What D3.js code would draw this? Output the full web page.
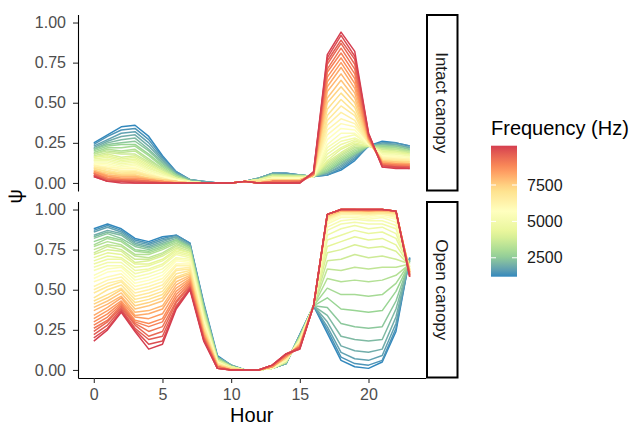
<!DOCTYPE html>
<html>
<head>
<meta charset="utf-8">
<script src="https://cdn.jsdelivr.net/npm/d3@7"></script>
<style>
  body { margin: 0; background: #fff; }
  text { font-family: "Liberation Sans", Arial, sans-serif; }
</style>
</head>
<body>
<svg id="chart" width="634" height="427"></svg>
<script>
(function () {
    'use strict';

    // ---- data -------------------------------------------------------------
    var hours = [0, 1, 2, 3, 4, 5, 6, 7, 8, 9, 10, 11, 12, 13, 14, 15, 16, 17, 18, 19, 20, 21, 22, 23];
    var frequencies = [1200, 1450, 1700, 1950, 2200, 2450, 2700, 2950, 3200, 3450, 3700, 3950, 4200,
        4450, 4700, 4950, 5200, 5450, 5700, 5950, 6200, 6450, 6700, 6950, 7200, 7450, 7700, 7950,
        8200, 8450, 8700, 8950, 9200, 9450, 9700, 9950, 10200];
    var facets = ['Intact canopy', 'Open canopy'];
    var yTicks = [0, 0.25, 0.5, 0.75, 1];
    var xTicks = [0, 5, 10, 15, 20];
    var legendTicks = [2500, 5000, 7500];

    // psi in percent, one row per hour, one column per frequency (low -> high)
    var intactPsi = [
        [25,24,23,22,21,21,20,19,18,18, 17,16,16,15,14,14,13,12,12,11, 11,10,10,9,9,8,8,7,7,7, 6,6,6,5,5,4,4],
        [30,29,27,26,25,24,23,22,21,20, 19,18,17,16,15,14,13,12,11,10, 9,9,8,7,7,6,5,5,4,4, 3,3,2,2,1,1,1],
        [35,33,31,29,27,25,24,22,20,19, 18,16,15,14,13,12,11,10,9,9, 8,7,6,6,5,5,4,4,3,3, 2,2,2,1,1,1,0],
        [36,34,32,30,28,26,24,23,21,20, 18,17,16,15,14,13,12,11,10,9, 8,7,7,6,5,5,4,4,3,3, 2,2,1,1,1,0,0],
        [29,27,25,23,21,20,18,17,15,14, 13,12,11,10,9,8,8,7,6,6, 5,5,4,4,3,3,3,2,2,2, 1,1,1,1,0,0,0],
        [17,16,15,14,13,12,11,10,9,9, 8,7,7,6,6,5,5,4,4,3, 3,3,2,2,2,2,1,1,1,1, 1,0,0,0,0,0,0],
        [7,7,6,6,5,5,5,4,4,4, 3,3,3,3,2,2,2,2,2,1, 1,1,1,1,1,1,1,0,0,0, 0,0,0,0,0,0,0],
        [2,2,2,2,2,1,1,1,1,1, 1,1,1,1,1,1,0,0,0,0, 0,0,0,0,0,0,0,0,0,0, 0,0,0,0,0,0,0],
        [1,1,1,1,0,0,0,0,0,0, 0,0,0,0,0,0,0,0,0,0, 0,0,0,0,0,0,0,0,0,0, 0,0,0,0,0,0,0],
        [0,0,0,0,0,0,0,0,0,0, 0,0,0,0,0,0,0,0,0,0, 0,0,0,0,0,0,0,0,0,0, 0,0,0,0,0,0,0],
        [0,0,0,0,0,0,0,0,0,0, 0,0,0,0,0,0,0,0,0,0, 0,0,0,0,0,0,0,0,0,0, 0,0,0,0,0,0,0],
        [1,1,1,1,1,1,1,1,1,1, 1,1,1,1,1,1,1,1,1,1, 1,1,1,1,1,1,1,1,1,1, 1,1,1,1,1,1,1],
        [3,3,3,3,3,2,2,2,2,2, 2,2,2,2,1,1,1,1,1,1, 1,1,1,1,1,0,0,0,0,0, 0,0,0,0,0,0,0],
        [6,6,6,6,5,5,5,5,5,4, 4,4,4,4,3,3,3,3,3,3, 2,2,2,2,2,2,1,1,1,1, 1,1,1,0,0,0,0],
        [6,6,6,5,5,5,5,5,4,4, 4,4,4,3,3,3,3,3,3,2, 2,2,2,2,2,2,1,1,1,1, 1,1,1,0,0,0,0],
        [5,5,5,5,5,5,4,4,4,4, 4,4,4,3,3,3,3,3,3,2, 2,2,2,2,2,2,1,1,1,1, 1,1,1,1,0,0,0],
        [4,4,4,4,4,4,4,4,4,4, 4,4,4,4,4,4,4,4,4,5, 5,5,5,5,5,5,5,5,5,5, 6,6,6,6,6,7,7],
        [5,5,6,6,7,7,8,9,10,11, 12,13,14,16,18,20,22,24,27,30, 33,36,39,42,46,50,53,57,60,63, 66,69,71,74,76,78,80],
        [8,9,10,11,12,13,14,15,16,17, 18,19,21,22,24,26,28,31,34,37, 40,44,48,52,56,60,64,68,72,75, 78,81,84,87,89,92,94],
        [14,15,16,17,18,18,19,20,21,22, 23,24,25,26,27,28,30,31,33,35, 37,39,42,44,47,50,53,56,59,62, 65,68,71,74,77,79,82],
        [23,23,23,23,23,23,23,23,23,23, 23,23,23,24,24,24,24,24,24,25, 25,25,25,26,26,26,27,27,28,28, 28,29,29,30,30,31,31],
        [26,25,25,24,24,23,23,22,22,21, 21,20,20,19,19,18,18,17,17,16, 16,15,15,14,14,14,13,13,13,12, 12,12,11,11,11,10,10],
        [25,25,24,24,23,23,22,22,21,21, 20,20,19,19,18,18,17,17,16,16, 15,15,14,14,13,13,13,12,12,12, 11,11,11,10,10,10,9],
        [23,23,22,22,21,21,20,20,20,19, 19,18,18,17,17,17,16,16,15,15, 15,14,14,13,13,13,12,12,12,11, 11,11,10,10,10,9,9]
    ];

    var openPsi = [
        [88,87,86,84,83,82,80,78,77,75, 73,72,70,68,66,64,62,59,57,55, 52,50,48,45,43,41,39,37,34,32, 30,28,26,24,22,20,18],
        [91,90,89,87,86,85,83,82,80,78, 77,75,73,71,69,67,65,63,61,58, 56,54,52,50,47,45,43,41,39,37, 35,33,31,30,28,26,25],
        [88,87,86,85,84,82,81,80,78,77, 75,74,72,70,69,67,65,64,62,60, 58,56,55,53,51,50,48,46,45,43, 42,41,40,39,38,37,36],
        [82,81,80,79,78,77,75,74,72,71, 69,67,66,64,62,60,58,56,54,52, 50,48,46,44,42,40,38,36,34,33, 31,30,29,28,26,25,24],
        [80,79,78,77,76,75,74,73,72,70, 69,68,66,65,63,62,60,58,56,54, 52,50,48,46,44,42,40,37,35,32, 29,27,24,21,19,16,13],
        [83,82,81,80,79,78,77,76,75,73, 72,71,69,68,66,65,63,61,59,57, 55,53,51,49,47,45,43,40,38,35, 32,30,27,24,21,18,16],
        [84,84,83,83,82,81,81,80,79,78, 77,76,75,74,73,72,70,69,68,66, 65,63,62,60,58,57,55,53,51,49, 47,45,43,42,40,39,38],
        [79,79,78,78,77,77,76,76,75,75, 74,73,73,72,71,70,69,68,67,66, 65,64,63,62,61,60,59,58,57,56, 55,54,53,52,51,51,50],
        [42,41,41,40,40,39,38,38,37,36, 36,35,34,34,33,32,31,31,30,29, 28,28,27,26,25,25,24,23,23,22, 21,21,20,20,19,19,18],
        [9,8,8,8,8,7,7,7,7,6, 6,6,6,5,5,5,5,5,4,4, 4,4,4,3,3,3,3,3,2,2, 2,2,2,1,1,1,1],
        [3,3,3,3,3,2,2,2,2,2, 2,2,2,2,1,1,1,1,1,1, 1,1,1,1,1,1,0,0,0,0, 0,0,0,0,0,0,0],
        [0,0,0,0,0,0,0,0,0,0, 0,0,0,0,0,0,0,0,0,0, 0,0,0,0,0,0,0,0,0,0, 0,0,0,0,0,0,0],
        [0,0,0,0,0,0,0,0,0,0, 0,0,0,0,0,0,0,0,0,0, 0,0,0,0,0,0,0,0,0,0, 0,0,0,0,0,0,0],
        [1,1,1,1,1,1,1,1,1,1, 1,1,1,1,1,1,1,1,2,2, 2,2,2,2,2,2,2,2,2,2, 2,3,3,3,3,3,3],
        [4,4,4,4,4,5,5,5,5,5, 5,5,6,6,6,6,6,6,7,7, 7,7,7,8,8,8,8,8,8,9, 9,9,9,10,10,10,10],
        [22,22,22,21,21,21,21,20,20,20, 20,19,19,19,19,18,18,18,18,17, 17,17,17,16,16,16,16,15,15,15, 15,14,14,14,14,13,13],
        [40,40,40,40,40,40,40,40,40,40, 40,40,40,40,40,40,40,40,40,40, 40,40,40,40,40,40,40,40,40,40, 40,40,40,40,40,40,40],
        [23,25,27,30,34,39,45,51,57,63, 68,73,77,81,84,87,89,91,92,93, 94,94,95,95,96,96,96,97,97,97, 97,97,97,97,97,97,97],
        [6,8,11,15,21,29,38,47,55,62, 69,75,80,84,88,91,93,95,96,97, 97,98,98,99,99,99,99,99,100,100, 100,100,100,100,100,100,100],
        [2,4,7,12,19,27,37,47,56,64, 72,78,83,87,90,92,94,95,96,97, 97,98,98,98,99,99,99,99,100,100, 100,100,100,100,100,100,100],
        [1,3,6,11,18,26,36,46,55,63, 70,76,81,85,88,91,93,94,95,96, 97,97,98,98,98,99,99,99,99,99, 100,100,100,100,100,100,100],
        [5,6,9,13,19,27,37,47,56,64, 71,77,82,86,89,91,93,95,96,97, 97,98,98,98,99,99,99,99,100,100, 100,100,100,100,100,100,100],
        [24,26,29,33,38,43,49,54,59,64, 69,74,78,82,85,88,90,92,94,95, 96,97,97,98,98,98,99,99,99,99, 99,99,99,99,99,99,99],
        [70,70,69,69,68,68,67,67,66,66, 66,65,65,65,64,64,64,63,63,63, 63,62,62,62,62,61,61,61,61,60, 60,60,59,59,59,58,58]
    ];

    var panels = [intactPsi, openPsi];

    // ---- layout -----------------------------------------------------------
    var svg = d3.select('#chart');
    var plotLeft = 78, plotRight = 425.5;
    var panelTops = [14.5, 201.5], panelH = 176.5;
    var stripX = 427, stripW = 30.5;

    var spectral = ['#3288bd', '#99d594', '#e6f598', '#ffffbf', '#fee08b', '#fc8d59', '#d53e4f'];
    var fMin = d3.min(frequencies), fMax = d3.max(frequencies);
    var color = d3.scaleLinear()
        .domain(spectral.map(function (c, k) { return fMin + k * (fMax - fMin) / (spectral.length - 1); }))
        .range(spectral)
        .interpolate(d3.interpolateLab);

    var x = d3.scaleLinear().domain([-1.15, 24.15]).range([plotLeft, plotRight]);

    svg.append('rect').attr('width', 634).attr('height', 427).attr('fill', '#fff');

    panels.forEach(function (psi, p) {
        var top = panelTops[p];
        var y = d3.scaleLinear().domain([-0.05, 1.05]).range([top + panelH, top]);
        var g = svg.append('g');

        var line = d3.line()
            .x(function (d) { return x(d[0]); })
            .y(function (d) { return y(d[1]); });

        g.selectAll('path.freq')
            .data(frequencies.map(function (f, i) { return { f: f, i: i }; }))
            .join('path')
            .attr('class', 'freq')
            .attr('fill', 'none')
            .attr('stroke', function (d) { return color(d.f); })
            .attr('stroke-width', 1.5)
            .attr('stroke-linejoin', 'round')
            .attr('d', function (d) {
                return line(hours.map(function (h, k) { return [h, psi[k][d.i] / 100]; }));
            });

        // y axis
        var yAxis = g.append('g')
            .attr('transform', 'translate(' + plotLeft + ',0)')
            .call(d3.axisLeft(y).tickValues(yTicks).tickFormat(d3.format('.2f'))
                .tickSize(5).tickSizeOuter(0).tickPadding(7));
        yAxis.select('.domain').attr('stroke', '#000').attr('stroke-width', 1.1);
        yAxis.selectAll('.tick line').attr('stroke', '#333').attr('stroke-width', 1.1);
        yAxis.selectAll('.tick text').attr('fill', '#4d4d4d').style('font-size', '16px');

        // strip on the right
        g.append('rect')
            .attr('x', stripX).attr('y', top + 0.5)
            .attr('width', stripW).attr('height', panelH - 1)
            .attr('fill', '#fff').attr('stroke', '#000').attr('stroke-width', 2);
        g.append('text')
            .attr('transform', 'translate(' + (stripX + stripW / 2) + ',' + (top + panelH / 2) + ') rotate(90)')
            .attr('text-anchor', 'middle')
            .attr('dy', '0.35em')
            .attr('fill', '#1a1a1a')
            .style('font-size', '17px')
            .text(facets[p]);

        if (p === panels.length - 1) {
            var xAxis = g.append('g')
                .attr('transform', 'translate(0,' + (top + panelH) + ')')
                .call(d3.axisBottom(x).tickValues(xTicks).tickSize(5).tickSizeOuter(0).tickPadding(6));
            xAxis.select('.domain').attr('stroke', '#000').attr('stroke-width', 1.1);
            xAxis.selectAll('.tick line').attr('stroke', '#333').attr('stroke-width', 1.1);
            xAxis.selectAll('.tick text').attr('fill', '#4d4d4d').style('font-size', '16px');
        }
    });

    // axis titles
    svg.append('text')
        .attr('x', (plotLeft + plotRight) / 2).attr('y', 422)
        .attr('text-anchor', 'middle')
        .style('font-size', '20px')
        .text('Hour');
    svg.append('text')
        .attr('transform', 'translate(22,' + ((panelTops[0] + panelTops[1] + panelH) / 2) + ') rotate(-90)')
        .attr('text-anchor', 'middle')
        .style('font-size', '20px')
        .text('ψ');

    // ---- colour bar legend --------------------------------------------------
    var barX = 491, barW = 26, barTop = 145.7, barBottom = 276.7;
    var legendY = d3.scaleLinear().domain([fMin, fMax]).range([barBottom, barTop]);

    var grad = svg.append('defs').append('linearGradient')
        .attr('id', 'freqGrad')
        .attr('x1', 0).attr('y1', 1).attr('x2', 0).attr('y2', 0);
    grad.selectAll('stop')
        .data(d3.range(0, 1.0001, 0.05))
        .join('stop')
        .attr('offset', function (t) { return t; })
        .attr('stop-color', function (t) { return color(fMin + t * (fMax - fMin)); });

    svg.append('text')
        .attr('x', barX).attr('y', 135)
        .style('font-size', '20px')
        .text('Frequency (Hz)');

    svg.append('rect')
        .attr('x', barX).attr('y', barTop)
        .attr('width', barW).attr('height', barBottom - barTop)
        .attr('fill', 'url(#freqGrad)');

    var lg = svg.append('g');
    legendTicks.forEach(function (v) {
        var yy = legendY(v);
        lg.append('line').attr('x1', barX).attr('x2', barX + 5).attr('y1', yy).attr('y2', yy)
            .attr('stroke', '#fff').attr('stroke-width', 1);
        lg.append('line').attr('x1', barX + barW - 5).attr('x2', barX + barW).attr('y1', yy).attr('y2', yy)
            .attr('stroke', '#fff').attr('stroke-width', 1);
        lg.append('text')
            .attr('x', barX + barW + 10).attr('y', yy)
            .attr('dy', '0.35em')
            .attr('fill', '#1a1a1a')
            .style('font-size', '16px')
            .text(v);
    });
}());
</script>
</body>
</html>
